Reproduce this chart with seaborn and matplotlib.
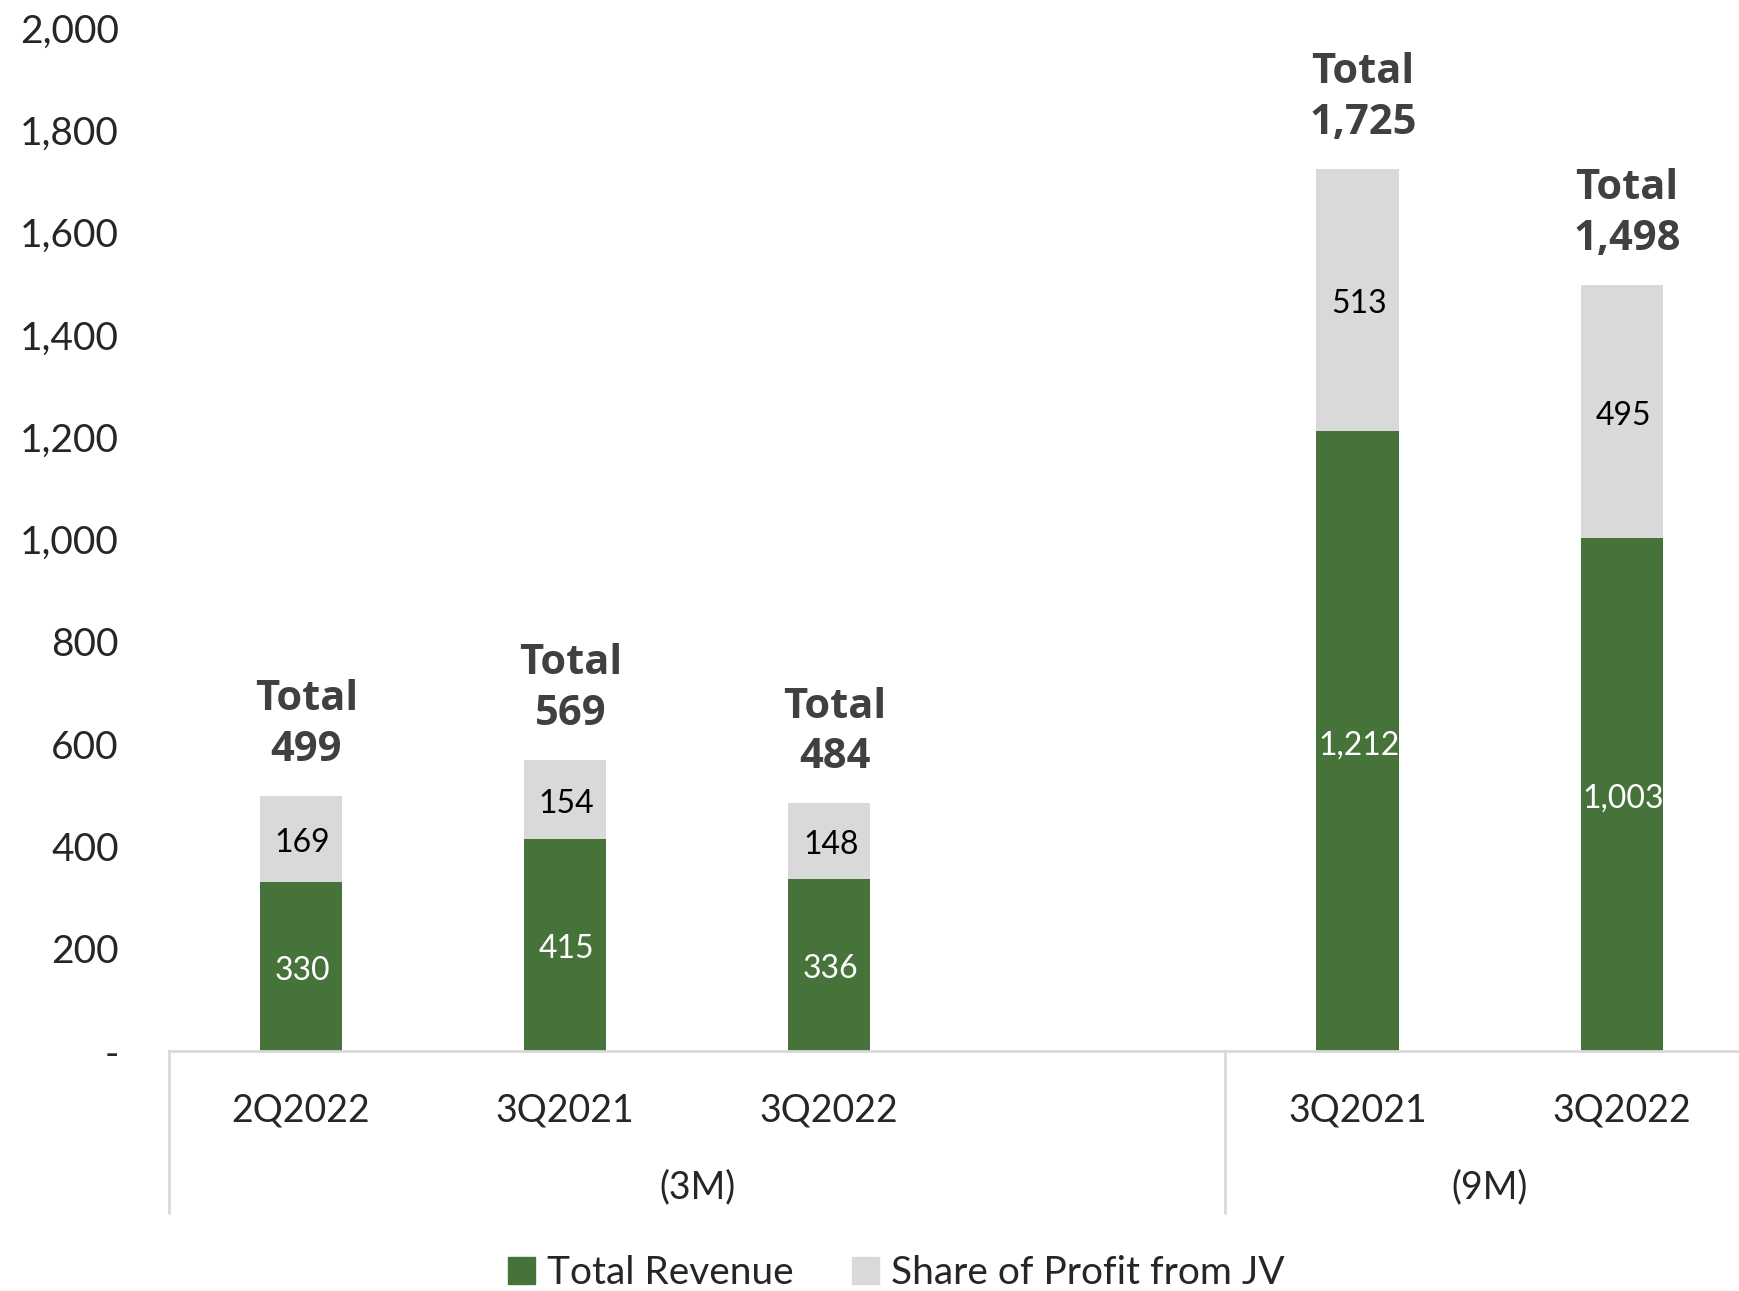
import numpy as np
import pandas as pd
import seaborn as sns
import matplotlib.pyplot as plt
from matplotlib.patches import Patch
from matplotlib.transforms import blended_transform_factory

sns.set_style("white")
plt.rcParams["font.family"] = ["Lato", "DejaVu Sans"]

# data
periods = ["2Q2022", "3Q2021", "3Q2022", "3Q2021", "3Q2022"]
groups = ["(3M)", "(3M)", "(3M)", "(9M)", "(9M)"]
revenue = [330, 415, 336, 1212, 1003]
jv_share = [169, 154, 148, 513, 495]
totals = [499, 569, 484, 1725, 1498]

GREEN = "#46733A"
GREY = "#D9D9D9"

# slot positions: each group gets its bars plus one empty slot after the first
pos = []
group_spans = []
p = 0
for g in pd.unique(pd.Series(groups)):
    n = groups.count(g)
    start = p
    pos += list(range(p, p + n))
    p += n
    group_spans.append((g, start - 0.5, start + n + (0.5 if g == "(3M)" else -0.5)))
    if g == "(3M)":
        p += 1

df = pd.DataFrame({"pos": pos, "period": periods, "revenue": revenue,
                   "share": jv_share, "total": totals})

fig = plt.figure(figsize=(17.4, 12.91), dpi=100)
ax = fig.add_axes([0.0971, 0.1859, 0.9029, 0.7924])

sns.barplot(data=df, x="pos", y="total", native_scale=True, color=GREY,
            width=0.311, saturation=1, ax=ax, linewidth=0)
sns.barplot(data=df, x="pos", y="revenue", native_scale=True, color=GREEN,
            width=0.311, saturation=1, ax=ax, linewidth=0)

ax.set_xlim(-0.5, 5.448)
ax.set_ylim(0, 2000)
ax.set_yticks(np.arange(0, 2001, 200))
ax.set_yticklabels(["-"] + [f"{v:,}" for v in range(200, 2001, 200)])
ax.tick_params(axis="y", length=0, pad=36, labelsize=28)
ax.set_xticks(df["pos"])
ax.set_xticklabels(df["period"])
ax.tick_params(axis="x", length=0, pad=30, labelsize=27)
ax.set_xlabel("")
ax.set_ylabel("")

for s in ["top", "right", "left"]:
    ax.spines[s].set_visible(False)
ax.spines["bottom"].set_color(GREY)
ax.spines["bottom"].set_linewidth(2)

# segment labels
for _, r in df.iterrows():
    ax.annotate(f"{r['revenue']:,}", (r["pos"], r["revenue"] / 2),
                xytext=(1, -3), textcoords="offset points", ha="center",
                va="center", color="white", fontsize=23)
    ax.annotate(f"{r['share']:,}", (r["pos"], r["revenue"] + r["share"] / 2),
                xytext=(1, -3), textcoords="offset points", ha="center",
                va="center", color="black", fontsize=23)
    ax.annotate(f"Total\n{r['total']:,}", (r["pos"] + 0.02, r["total"]),
                xytext=(0, 18), textcoords="offset points", ha="center",
                va="bottom", fontsize=30, fontweight="bold", color="#404040",
                family=["Open Sans", "DejaVu Sans"], linespacing=1.32)

# group labels and separators
trans = blended_transform_factory(ax.transData, ax.transAxes)
for g, x0, x1 in group_spans:
    ax.plot([x0, x0], [0, -0.158], transform=trans, color=GREY, lw=2,
            clip_on=False)
    ax.text((x0 + x1) / 2, -0.133, g, transform=trans, ha="center",
            va="center", fontsize=27)

handles = [Patch(color=GREEN, label="Total Revenue"),
           Patch(color=GREY, label="Share of Profit from JV")]
fig.legend(handles=handles, loc="center", bbox_to_anchor=(0.515, 0.014),
           ncol=2, frameon=False, fontsize=28, handlelength=0.7,
           handleheight=0.7, handletextpad=0.3, columnspacing=1.5)

fig.savefig("out.png", dpi=100)
